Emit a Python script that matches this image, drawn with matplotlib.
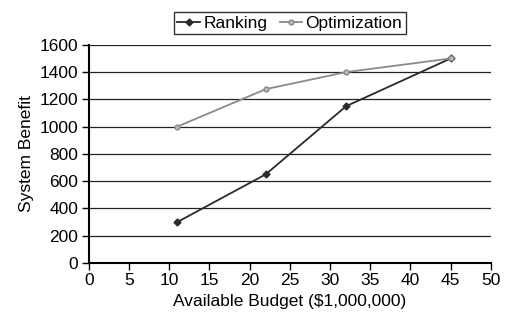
import numpy as np
import matplotlib.pyplot as plt

plt.rcParams['font.family'] = ['Liberation Sans', 'DejaVu Sans']

budget = [11, 22, 32, 45]
ranking = [300, 650, 1150, 1500]
optimization = [1000, 1275, 1400, 1500]

fig = plt.figure(figsize=(5.05, 3.25), dpi=100)
ax = fig.add_axes([0.176, 0.191, 0.796, 0.671])

# Horizontal grid lines every 200
ax.set_axisbelow(True)
ax.yaxis.grid(True, color='#222222', linewidth=0.9)

ax.plot(budget, ranking, color='#2a2a2a', linewidth=1.3,
        marker='D', markersize=3.5, label='Ranking')
ax.plot(budget, optimization, color='#8a8a8a', linewidth=1.3,
        marker='o', markersize=3.5, markerfacecolor='#bbbbbb',
        label='Optimization')

ax.set_xlim(0, 50)
ax.set_ylim(0, 1600)
ax.set_xticks(np.arange(0, 51, 5))
ax.set_yticks(np.arange(0, 1601, 200))

for side in ['top', 'right']:
    ax.spines[side].set_visible(False)
for side in ['left', 'bottom']:
    ax.spines[side].set_linewidth(1.5)
    ax.spines[side].set_color('black')

fs = 12.5
ax.tick_params(direction='out', length=5, width=1, labelsize=fs, pad=2.5)
ax.set_xlabel('Available Budget ($1,000,000)', fontsize=fs, labelpad=4)
ax.set_ylabel('System Benefit', fontsize=fs, labelpad=4)

leg = ax.legend(loc='lower center', bbox_to_anchor=(0.5, 1.0), ncol=2,
                frameon=True, fancybox=False, fontsize=fs,
                handlelength=1.3, handletextpad=0.2, columnspacing=0.7,
                borderpad=0.2, borderaxespad=0.6)
leg.get_frame().set_edgecolor('black')
leg.get_frame().set_linewidth(1.0)

fig.savefig('out.png', dpi=100)
